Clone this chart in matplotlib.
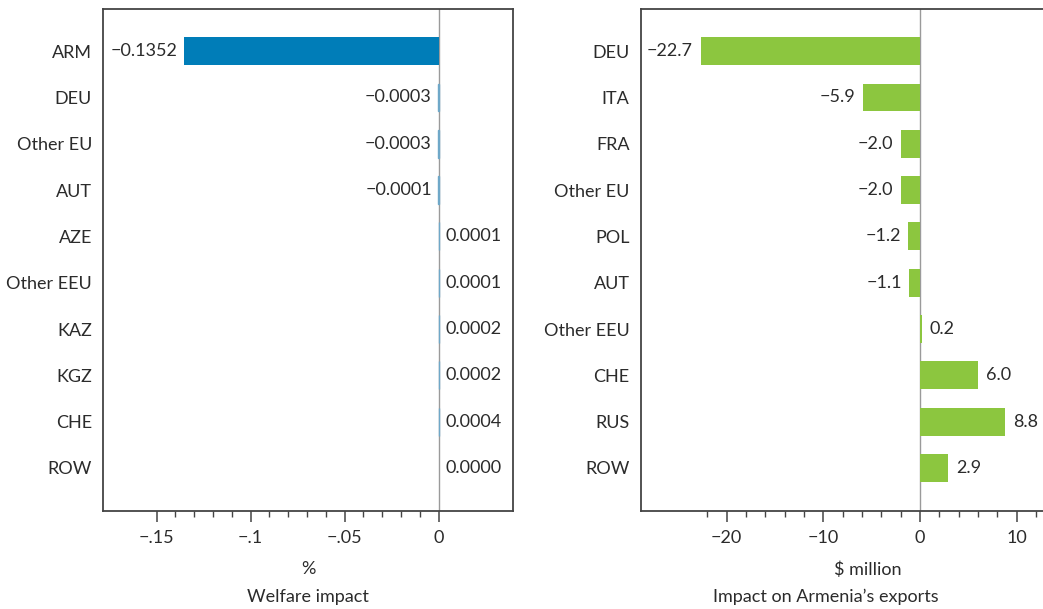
import numpy as np
import matplotlib
matplotlib.use("Agg")
import matplotlib.pyplot as plt

plt.rcParams['font.family'] = ['Lato', 'DejaVu Sans']

# Welfare impact (%)
welfare_cats = ["ARM", "DEU", "Other EU", "AUT", "AZE", "Other EEU", "KAZ", "KGZ", "CHE", "ROW"]
welfare_vals = [-0.1352, -0.0003, -0.0003, -0.0001, 0.0001, 0.0001, 0.0002, 0.0002, 0.0004, 0.0000]

# Impact on Armenia's exports ($ million)
export_cats = ["DEU", "ITA", "FRA", "Other EU", "POL", "AUT", "Other EEU", "CHE", "RUS", "ROW"]
export_vals = [-22.7, -5.9, -2.0, -2.0, -1.2, -1.1, 0.2, 6.0, 8.8, 2.9]

welfare_ticks = [-0.15, -0.1, -0.05, 0]
welfare_ticklabels = ["\u2212.15", "\u2212.1", "\u2212.05", "0"]
export_ticks = [-20, -10, 0, 10]
export_ticklabels = ["\u221220", "\u221210", "0", "10"]

BLUE = "#007DB8"
LIGHTBLUE = "#6FA8C8"
GREEN = "#8CC63F"
TXT = "#2b2b2b"
FRAME = "#444444"
FS = 13

fig = plt.figure(figsize=(10.43, 6.09), dpi=100)
ax1 = fig.add_axes([103 / 1043, 1 - 511 / 609, 410 / 1043, 502 / 609])
ax2 = fig.add_axes([640.7 / 1043, 1 - 511 / 609, 414.7 / 1043, 502 / 609])


def fmt(v, nd):
    s = f"{abs(v):.{nd}f}"
    return ("\u2212" + s) if v < 0 else s


def style(ax):
    for sp in ax.spines.values():
        sp.set_color(FRAME)
        sp.set_linewidth(1.3)
    ax.tick_params(axis="y", length=0, pad=8, labelsize=FS, labelcolor=TXT)
    ax.tick_params(axis="x", which="major", length=8, width=1.1, color=FRAME,
                   pad=6, labelsize=FS, labelcolor=TXT)
    ax.tick_params(axis="x", which="minor", length=4, width=1.0, color=FRAME)
    ax.set_ylim(9.93, -0.91)


# left panel
y = np.arange(len(welfare_cats))
ax1.axvline(0, color="#9a9a9a", lw=1.0, zorder=0)
for yi, v in zip(y, welfare_vals):
    if abs(v) > 0.01:
        ax1.barh(yi, v, height=0.6, color=BLUE, lw=0)
    elif v != 0:
        ax1.barh(yi, v, height=0.6, color=LIGHTBLUE, edgecolor=LIGHTBLUE, lw=1.0, zorder=2)
ax1.set_xlim(-0.1785, 0.0396)
ax1.set_yticks(y)
ax1.set_yticklabels(welfare_cats)
ax1.set_xticks(welfare_ticks)
ax1.set_xticklabels(welfare_ticklabels)
ax1.set_xticks([t for t in np.arange(-0.14, 0, 0.01) if round(t * 100) % 5 != 0], minor=True)
style(ax1)
off1 = 0.0035
for yi, v in zip(y, welfare_vals):
    if v < 0:
        ax1.text(v - off1, yi, fmt(v, 4), ha="right", va="center", fontsize=FS, color=TXT)
    else:
        ax1.text(v + off1, yi, fmt(v, 4), ha="left", va="center", fontsize=FS, color=TXT)
ax1.set_xlabel("%", fontsize=FS, color=TXT)
ax1.xaxis.set_label_coords(0.5, -0.1)
fig.text((103 + 513) / 2 / 1043, 1 - 597 / 609, "Welfare impact", ha="center", va="center",
         fontsize=FS, color=TXT)

# right panel
y2 = np.arange(len(export_cats))
ax2.barh(y2, export_vals, height=0.6, color=GREEN)
ax2.axvline(0, color="#9a9a9a", lw=1.0, zorder=0)
ax2.set_xlim(-28.9, 14)
ax2.set_yticks(y2)
ax2.set_yticklabels(export_cats)
ax2.set_xticks(export_ticks)
ax2.set_xticklabels(export_ticklabels)
ax2.set_xticks([t for t in range(-22, 14, 2) if t % 10 != 0], minor=True)
style(ax2)
off2 = 0.8
for yi, v in zip(y2, export_vals):
    if v < 0:
        ax2.text(v - off2, yi, fmt(v, 1), ha="right", va="center", fontsize=FS, color=TXT)
    else:
        ax2.text(v + off2, yi, fmt(v, 1), ha="left", va="center", fontsize=FS, color=TXT)
ax2.set_xlabel("\\$ million", fontsize=FS, color=TXT)
ax2.xaxis.set_label_coords((868 - 640.7) / 414.7, -0.1)
fig.text(826 / 1043, 1 - 597 / 609, "Impact on Armenia\u2019s exports", ha="center", va="center",
         fontsize=FS, color=TXT)

fig.savefig("out.png", dpi=100)
